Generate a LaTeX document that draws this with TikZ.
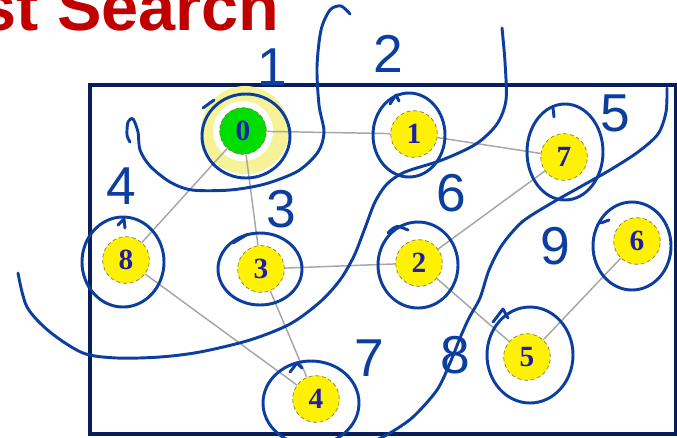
\documentclass[tikz,border=0pt]{standalone}
\usepackage{fontspec}
\setmainfont{Liberation Serif}
\newfontfamily\headfont{Liberation Sans}
\newfontfamily\handfont{Liberation Sans}
\definecolor{inkblue}{RGB}{12,62,160}
\definecolor{headred}{RGB}{192,0,0}
\definecolor{framenavy}{RGB}{8,30,90}
\definecolor{numblue}{RGB}{30,30,170}
\definecolor{halocol}{RGB}{246,242,150}
\definecolor{startgreen}{RGB}{0,221,0}
\definecolor{rimcol}{RGB}{130,120,60}

\begin{document}
\begin{tikzpicture}[x=0.75pt,y=-0.75pt,
  vertex/.style={circle,fill=yellow,draw=rimcol,densely dashed,line width=0.5pt,minimum size=35pt,inner sep=0pt,text=numblue,font=\bfseries\fontsize{22}{22}\selectfont},
  link/.style={draw=gray!70,line width=1.1pt},
  pen/.style={draw=inkblue,line width=2.2pt,line cap=round,line join=round},
  handnum/.style={text=inkblue,inner sep=0pt,font=\handfont\fontsize{40}{40}\selectfont}]
\useasboundingbox (0,0) rectangle (677,437);
\clip (0,0) rectangle (677,437);
\node[anchor=base west,inner sep=0pt,text=headred,font=\headfont\bfseries\fontsize{50}{50}\selectfont] (title) at (-21,30) {st Search};
\draw[framenavy,line width=2.3pt] (90,85) rectangle (676,434);
\fill[halocol] (245,130) circle (44);
\fill[white] (243,131) circle (30);
\node[vertex,fill=startgreen] (v0) at (243,131) {0};
\node[vertex] (v1) at (414,134) {1};
\node[vertex] (v7) at (564,157) {7};
\node[vertex] (v6) at (637,241) {6};
\node[vertex] (v8) at (126,260) {8};
\node[vertex] (v3) at (261,269) {3};
\node[vertex] (v2) at (419,263) {2};
\node[vertex] (v5) at (527,357) {5};
\node[vertex] (v4) at (316,399) {4};
\draw[link] (v0) -- (v1);
\draw[link] (v0) -- (v8);
\draw[link] (v0) -- (v3);
\draw[link] (v1) -- (v7);
\draw[link] (v7) -- (v2);
\draw[link] (v3) -- (v2);
\draw[link] (v8) -- (v4);
\draw[link] (v3) -- (v4);
\draw[link] (v2) -- (v5);
\draw[link] (v5) -- (v6);
\draw[pen] (246,136) ellipse (44 and 42);
\draw[pen] (203,108) -- (214,100);
\draw[pen] (409,135) ellipse (36 and 42);
\draw[pen] (390,104) -- (396,95) -- (399,101);
\draw[pen] (565,152) ellipse (38 and 48);
\draw[pen] (553,108) -- (554,117);
\draw[pen] (123,262) ellipse (41 and 45);
\draw[pen] (118,225) -- (124,219) -- (125,228);
\draw[pen] (260,269) ellipse (42 and 36);
\draw[pen] (233,243) -- (248,234);
\draw[pen] (418,265) ellipse (40 and 43);
\draw[pen] (388,233) .. controls (396,225) .. (408,230);
\draw[pen] (632,246) ellipse (39 and 44);
\draw[pen] (601,223) -- (609,220);
\draw[pen] (530,355) ellipse (43 and 48);
\draw[pen] (493,322) -- (503,309) -- (508,318);
\draw[pen] (311,403) ellipse (48 and 42);
\draw[pen] (290,372) -- (297,363) -- (302,368);
\draw[pen] plot[smooth] coordinates {(350,14) (341,6) (330,10) (321,30) (317,67) (319,105) (324,132) (318,152) (298,171) (265,184) (230,190) (192,190) (170,182) (150,166) (140,150) (138,132) (133,119) (128,122) (127,135) (130,142)};
\draw[pen] plot[smooth] coordinates {(502,28) (505,62) (506,100) (497,124) (476,144) (442,160) (405,172) (387,184) (375,202) (365,228) (354,256) (340,280) (320,302) (290,324) (250,340) (200,352) (160,357) (117,358) (83,353) (50,332) (27,307) (18,273)};
\draw[pen] plot[smooth] coordinates {(667,88) (666,112) (658,134) (638,152) (610,170) (580,187) (550,204) (522,222) (502,245) (489,270) (480,298) (469,318) (460,338) (450,363) (437,390) (413,417) (390,433) (372,442)};
\node[handnum] (h1) at (272,67) {1};
\node[handnum] (h2) at (388,54) {2};
\node[handnum] (h3) at (281,209) {3};
\node[handnum] (h4) at (121,186) {4};
\node[handnum] (h5) at (615,113) {5};
\node[handnum] (h6) at (451,193) {6};
\node[handnum] (h7) at (369,358) {7};
\node[handnum] (h8) at (455,355) {8};
\node[handnum] (h9) at (555,246) {9};
\end{tikzpicture}
\end{document}
